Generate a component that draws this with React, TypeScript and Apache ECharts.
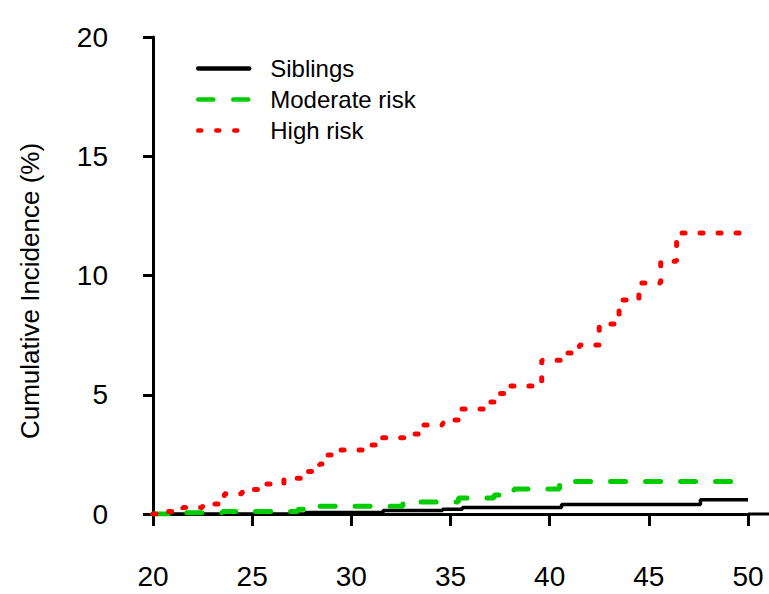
import React, { useEffect, useRef } from "react";
import * as echarts from "echarts";

const xTicks = [20, 25, 30, 35, 40, 45, 50];
const yTicks = [0, 5, 10, 15, 20];

const siblingsAge = [20, 27.7, 31.6, 34.6, 35.6, 40.6, 47.6, 50];
const siblingsInc = [0, 0.06, 0.15, 0.2, 0.27, 0.4, 0.6, 0.6];

const moderateAge = [20, 21, 23.5, 27.3, 27.6, 32.6, 35.4, 37.2, 37.6, 38.2, 40.5, 50];
const moderateInc = [0, 0.05, 0.1, 0.2, 0.33, 0.5, 0.67, 0.8, 0.95, 1.05, 1.36, 1.36];

const highAge = [20, 20.7, 21.5, 22.5, 23.6, 24.5, 25.6, 26.6, 27.8, 28.4, 28.7, 29.3, 30.8, 31.5, 32.8, 33.6, 34.6, 35.2, 35.5, 36.8, 37.4, 37.8, 39.6, 40.6, 41.5, 42.5, 43.5, 44.5, 45.6, 46.4, 50];
const highInc = [0, 0.1, 0.27, 0.42, 0.85, 1.03, 1.26, 1.5, 1.78, 2.1, 2.47, 2.68, 2.89, 3.2, 3.35, 3.73, 3.82, 3.94, 4.4, 4.7, 5.05, 5.37, 6.45, 6.75, 7.09, 7.97, 8.97, 9.69, 10.6, 11.78, 11.78];

const seriesNames = ["Siblings", "Moderate risk", "High risk"];
const FONT = "'Liberation Sans', Arial, sans-serif";

const zip = (a: number[], b: number[]) => a.map((v, i) => [v, b[i]]);

export default function App() {
  const ref = useRef<HTMLDivElement>(null);
  useEffect(() => {
    document.body.style.margin = "0";
    if (!ref.current) return;
    const chart = echarts.init(ref.current, null, { renderer: "svg" });
    chart.setOption({
      animation: false,
      backgroundColor: "#ffffff",
      grid: { left: 153, right: 21, top: 37, bottom: 80 },
      legend: {
        orient: "vertical",
        left: 196,
        top: 56,
        padding: 0,
        itemWidth: 51,
        itemHeight: 14,
        itemGap: 6,
        data: seriesNames,
        itemStyle: { opacity: 0 },
        lineStyle: { width: 4.5, cap: "round" },
        textStyle: {
          fontSize: 24,
          fontFamily: FONT,
          color: "#000",
          lineHeight: 25,
          padding: [0, 0, 0, 16],
        },
      },
      xAxis: {
        type: "value",
        min: xTicks[0],
        max: xTicks[xTicks.length - 1],
        interval: 5,
        axisLine: { onZero: false, lineStyle: { color: "#000", width: 3 } },
        axisTick: { length: 12, lineStyle: { color: "#000", width: 3 } },
        axisLabel: { margin: 48, fontSize: 28, color: "#000", fontFamily: FONT },
        splitLine: { show: false },
      },
      yAxis: {
        type: "value",
        min: yTicks[0],
        max: yTicks[yTicks.length - 1],
        interval: 5,
        axisLine: { show: true, lineStyle: { color: "#000", width: 3 } },
        axisTick: { show: true, length: 10, lineStyle: { color: "#000", width: 3 } },
        axisLabel: { margin: 45, fontSize: 28, color: "#000", fontFamily: FONT },
        splitLine: { show: false },
      },
      graphic: [
        {
          type: "line",
          shape: { x1: 748, y1: 514, x2: 769, y2: 514 },
          style: { stroke: "#000", lineWidth: 3 },
        },
        {
          type: "text",
          x: 30,
          y: 291,
          rotation: Math.PI / 2,
          style: {
            text: "Cumulative Incidence (%)",
            fontSize: 26,
            fontFamily: FONT,
            fill: "#000",
            align: "center",
            verticalAlign: "middle",
          },
        },
      ],
      series: [
        {
          name: seriesNames[0],
          type: "line",
          step: "end",
          showSymbol: false,
          symbol: "none",
          data: zip(siblingsAge, siblingsInc),
          lineStyle: { color: "#000000", width: 3.5 },
          itemStyle: { color: "#000000" },
        },
        {
          name: seriesNames[1],
          type: "line",
          step: "end",
          showSymbol: false,
          symbol: "none",
          data: zip(moderateAge, moderateInc),
          lineStyle: { color: "#00cc00", width: 5, type: [15, 20], cap: "round" },
          itemStyle: { color: "#00cc00" },
        },
        {
          name: seriesNames[2],
          type: "line",
          step: "end",
          showSymbol: false,
          symbol: "none",
          data: zip(highAge, highInc),
          lineStyle: { color: "#ff0000", width: 5, type: [3, 15], cap: "round" },
          itemStyle: { color: "#ff0000" },
        },
      ],
    });
    return () => chart.dispose();
  }, []);
  return <div ref={ref} style={{ width: 769, height: 594 }} />;
}
